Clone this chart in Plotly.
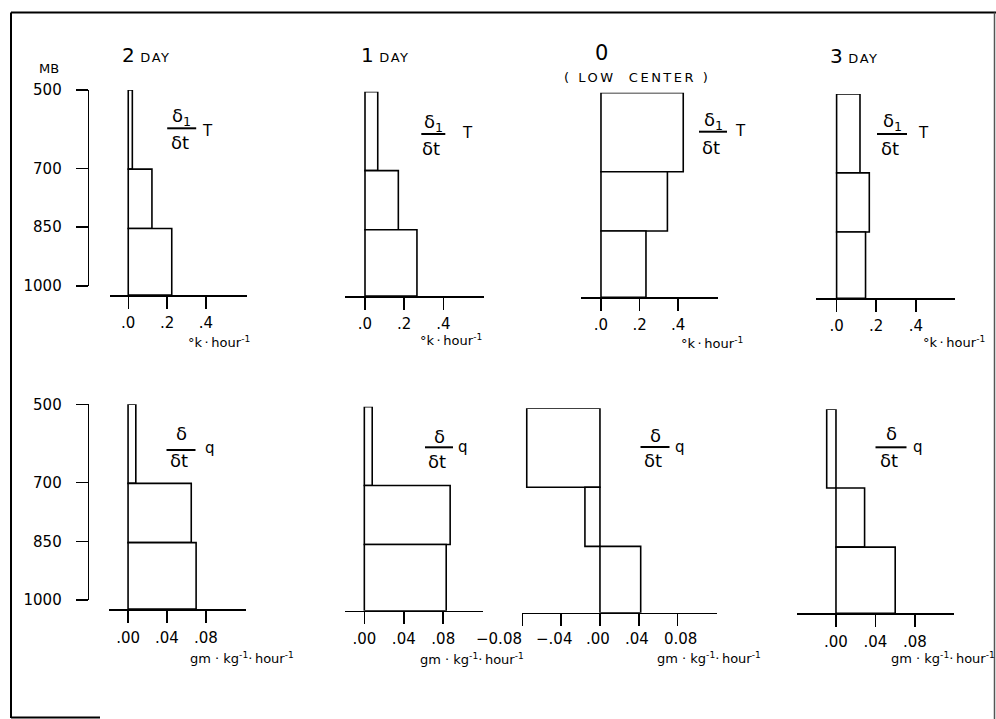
import plotly.graph_objects as go

# ---------------- data ----------------
LEVELS_MB = [500, 700, 850]          # tops of the three layers
SURFACE_MB = 1018                    # bottom of the lowest layer (axis line)
PRESSURE_TICKS = [500, 700, 850, 1000]
PRESSURE_TICKTEXT = ["500", "700", "850", "1000"]

DAY_NUM = ["2", "1", "0", "3"]

# temperature tendency, deg K / hour, layers 500-700, 700-850, 850-surface
T_2DAY = [0.021, 0.122, 0.224]
T_1DAY = [0.065, 0.170, 0.265]
T_0DAY = [0.426, 0.344, 0.233]
T_3DAY = [0.118, 0.165, 0.146]

# moisture tendency, gm/kg / hour
Q_2DAY = [0.008, 0.065, 0.070]
Q_1DAY = [0.008, 0.087, 0.083]
Q_0DAY = [-0.0755, -0.0155, 0.042]
Q_3DAY = [-0.0094, 0.029, 0.060]

T_TICKVALS = [0, 0.2, 0.4]
T_TICKTEXT = [".0", ".2", ".4"]
Q_TICKVALS = [0, 0.04, 0.08]
Q_TICKTEXT = [".00", ".04", ".08"]
Q0_TICKVALS = [-0.08, -0.04, 0, 0.04, 0.08]
Q0_TICKTEXT = ["\u22120.08", "\u2212.04", ".00", ".04", "0.08"]

# ---------------- helpers ----------------
W, H = 996, 719
FONT = "DejaVu Sans"


def px(x):
    return x / W


def py(y):
    return 1 - y / H


tops = LEVELS_MB
bottoms = LEVELS_MB[1:] + [SURFACE_MB]
centers = [(t + b) / 2 for t, b in zip(tops, bottoms)]
thick = [b - t for t, b in zip(tops, bottoms)]

# panel geometry (pixels): x_left, x_right, x_range, y_top(500mb), y_axis
panels = [
    (T_2DAY, T_TICKVALS, T_TICKTEXT, 110, 246.7, [-0.094, 0.610], 90, 295),
    (T_1DAY, T_TICKVALS, T_TICKTEXT, 345, 484, [-0.102, 0.607], 91.7, 296),
    (T_0DAY, T_TICKVALS, T_TICKTEXT, 580.7, 718, [-0.105, 0.606], 92.7, 297.3),
    (T_3DAY, T_TICKVALS, T_TICKTEXT, 816, 954.7, [-0.104, 0.596], 94, 298.3),
    (Q_2DAY, Q_TICKVALS, Q_TICKTEXT, 109, 245.7, [-0.0196, 0.121], 404.3, 609),
    (Q_1DAY, Q_TICKVALS, Q_TICKTEXT, 345, 482.7, [-0.0196, 0.120], 406.7, 610.7),
    (Q_0DAY, Q0_TICKVALS, None, 522, 717.3, [-0.0804, 0.121], 408.3, 612.7),
    (Q_3DAY, Q_TICKVALS, Q_TICKTEXT, 796.7, 954, [-0.0398, 0.1196], 409.3, 613.3),
]

fig = go.Figure()
layout = dict(
    template="none",
    width=W, height=H, margin=dict(l=0, r=0, t=0, b=0, pad=0, autoexpand=False),
    paper_bgcolor="white", plot_bgcolor="rgba(0,0,0,0)",
    showlegend=False, barmode="overlay",
    font=dict(family=FONT, color="black", size=14),
)

for i, (vals, tv, tt, xl, xr, xrng, yt, ya) in enumerate(panels, start=1):
    xa = "x" if i == 1 else f"x{i}"
    ya_ = "y" if i == 1 else f"y{i}"
    fig.add_trace(go.Bar(
        x=vals, y=centers, width=thick, orientation="h",
        marker=dict(color="white", line=dict(color="black", width=1.6)),
        xaxis=xa, yaxis=ya_, hoverinfo="skip",
    ))
    row_top = i <= 4
    layout["xaxis" if i == 1 else f"xaxis{i}"] = dict(
        domain=[px(xl), px(xr)], range=xrng, anchor=ya_,
        showline=True, linecolor="black", linewidth=1.6,
        ticks="outside", ticklen=12, tickwidth=1.5, tickcolor="black",
        tickvals=tv, ticktext=tt if tt else None, showticklabels=tt is not None,
        tickfont=dict(size=15, family=FONT, color="black"),
        ticklabelstandoff=1 if row_top else 2, tickangle=0,
        showgrid=False, zeroline=False, fixedrange=True, automargin=False,
    )
    layout["yaxis" if i == 1 else f"yaxis{i}"] = dict(
        domain=[py(ya), py(yt)], range=[SURFACE_MB, 500], anchor=xa,
        visible=False, fixedrange=True, automargin=False,
    )

# pressure brackets (left column)
for k, (y500, y1000) in zip([9, 10], [(90, 286), (404.3, 600)]):
    fig.add_trace(go.Scatter(
        x=[0] * len(PRESSURE_TICKS), y=PRESSURE_TICKS, mode="markers",
        marker=dict(opacity=0), xaxis=f"x{k}", yaxis=f"y{k}", hoverinfo="skip",
    ))
    layout[f"xaxis{k}"] = dict(domain=[px(89.3), px(96)], range=[0, 1],
                               anchor=f"y{k}", visible=False, fixedrange=True,
                               automargin=False)
    layout[f"yaxis{k}"] = dict(
        domain=[py(y1000), py(y500)], range=[1000, 500], anchor=f"x{k}",
        showline=True, linecolor="black", linewidth=1.6,
        ticks="outside", ticklen=12, tickwidth=1.5, tickcolor="black",
        tickvals=PRESSURE_TICKS, ticktext=PRESSURE_TICKTEXT,
        tickfont=dict(size=15, family=FONT, color="black"), ticklabelstandoff=11,
        showgrid=False, zeroline=False, fixedrange=True, automargin=False,
    )

annotations = []


def txt(x, y, text, size, xanchor="center", yanchor="middle"):
    annotations.append(dict(x=px(x), y=py(y), xref="paper", yref="paper",
                            text=text, showarrow=False, xanchor=xanchor,
                            yanchor=yanchor, borderpad=0,
                            font=dict(size=size, family=FONT, color="black")))


# tick labels of the low-center moisture panel, placed on its own x scale
Q0_LABEL_SHIFT = [-23, -7, -2, -2, 3]
for v, t, s in zip(Q0_TICKVALS, Q0_TICKTEXT, Q0_LABEL_SHIFT):
    annotations.append(dict(x=v, xref="x7", y=py(639), yref="paper", text=t,
                            showarrow=False, xanchor="center", yanchor="middle",
                            xshift=s, borderpad=0,
                            font=dict(size=15, family=FONT, color="black")))

DAY_SPAN = "<span style='font-size:13px;letter-spacing:1.5px'> DAY</span>"
txt(121, 55, f"<span style='font-size:20px'>{DAY_NUM[0]}</span>{DAY_SPAN}", 20, "left")
txt(360, 55, f"<span style='font-size:20px'>{DAY_NUM[1]}</span>{DAY_SPAN}", 20, "left")
txt(601, 53, DAY_NUM[2], 21)
txt(637, 78, "<span style='letter-spacing:2.5px'>( LOW  CENTER )</span>", 13)
txt(829, 56, f"<span style='font-size:20px'>{DAY_NUM[3]}</span>{DAY_SPAN}", 20, "left")
txt(49, 68, "MB", 13)

# unit labels
TS = "\u2009"
for x, y in [(219, 342), (451, 340), (712, 343), (954, 342)]:
    txt(x, y, f"°k{TS}·{TS}hour<sup>-1</sup>", 13)
for x, y in [(242, 658), (472, 659), (709, 658), (943, 658)]:
    txt(x, y, f"gm · kg<sup>-1</sup>·{TS}hour<sup>-1</sup>", 13)

shapes = []


def hline(x0, x1, y, w=2, color="black"):
    shapes.append(dict(type="line", xref="paper", yref="paper", x0=px(x0), x1=px(x1),
                       y0=py(y), y1=py(y), line=dict(color=color, width=w)))


def vline(x, y0, y1, w=2, color="black"):
    shapes.append(dict(type="line", xref="paper", yref="paper", x0=px(x), x1=px(x),
                       y0=py(y0), y1=py(y1), line=dict(color=color, width=w)))


# fraction labels: (center x, numerator y, line y, denominator y, half width, sym x, sym y)
T_FRACS = [(181.7, 117, 128.3, 142.5, 14.5, 207, 131),
           (433.3, 122.5, 134, 148, 12, 467, 133),
           (713, 120.7, 131.7, 147, 14, 740, 131),
           (892, 122, 134, 148, 15, 923, 133)]
Q_FRACS = [(181, 433, 450, 460, 14.5, 210, 448),
           (439, 436, 447.3, 461, 14, 463.3, 447),
           (655, 435, 447, 460, 14.5, 680, 447),
           (891, 433.5, 447.3, 460, 15.5, 918, 447)]
for cx, ny, ly, dy, hw, sx, sy in T_FRACS:
    txt(cx, ny, "δ<sub>1</sub>", 18)
    hline(cx - hw, cx + hw, ly, 2)
    txt(cx - 2, dy, "δt", 18)
    txt(sx, sy, "T", 15)
for cx, ny, ly, dy, hw, sx, sy in Q_FRACS:
    txt(cx, ny, "δ", 18)
    hline(cx - hw, cx + hw, ly, 2)
    txt(cx - 2, dy, "δt", 18)
    txt(sx, sy, "q", 15)

# page border
vline(11, 12.5, 718, 2)
hline(11, 996, 12.5, 2)
vline(994.5, 12.5, 719, 1.5, "#555")
hline(11, 100, 717.5, 2)

layout["annotations"] = annotations
layout["shapes"] = shapes
fig.update_layout(**layout)
fig.write_html(
    "out.html",
    config={"displayModeBar": False, "staticPlot": True},
    post_script="document.body.style.margin='0';document.body.style.overflow='hidden';",
)
